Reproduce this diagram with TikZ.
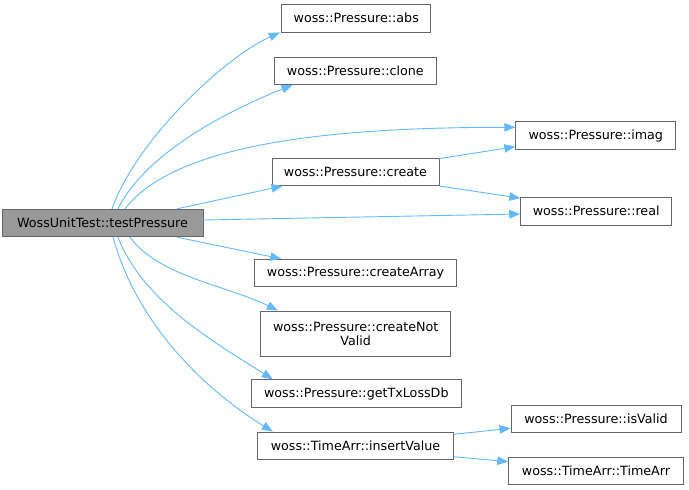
\documentclass[tikz,border=0pt]{standalone}
\usepackage{fontspec}
\setmainfont{DejaVu Sans}
\usetikzlibrary{arrows.meta}
\definecolor{edgeblue}{HTML}{63B8FF}
\definecolor{nodeborder}{HTML}{666666}
\definecolor{tpfill}{HTML}{999999}
\tikzset{
  box/.style={draw=nodeborder, line width=0.9pt, fill=white, minimum height=27.5pt,
    inner sep=0pt, font=\fontsize{12.7}{14}\selectfont},
  edge/.style={draw=edgeblue, line width=0.9pt, -{Triangle[length=11pt,width=8.5pt]}}
}
\begin{document}
\begin{tikzpicture}[x=1pt,y=-1pt]
\useasboundingbox (0,0) rectangle (689,490);
\node[box, fill=tpfill, minimum width=201pt] (tp) at (102.5,223) {WossUnitTest::testPressure};
\node[box, minimum width=149pt] (abs) at (356.3,18.2) {woss::Pressure::abs};
\node[box, minimum width=162.7pt] (clone) at (355.3,70.8) {woss::Pressure::clone};
\node[box, minimum width=167pt] (create) at (355.5,171.8) {woss::Pressure::create};
\node[box, minimum width=160pt] (imag) at (595.8,135.5) {woss::Pressure::imag};
\node[box, minimum width=151pt] (real) at (596.2,211.2) {woss::Pressure::real};
\node[box, minimum width=202.4pt] (carr) at (355.5,273) {woss::Pressure::createArray};
\node[box, minimum width=190pt, minimum height=45.5pt, align=center] (cnv) at (355.7,333.8) {woss::Pressure::createNot\\Valid};
\node[box, minimum width=209.3pt] (gtx) at (356.3,393.5) {woss::Pressure::getTxLossDb};
\node[box, minimum width=195.6pt] (ins) at (355.5,445.8) {woss::TimeArr::insertValue};
\node[box, minimum width=170pt] (isv) at (596,419) {woss::Pressure::isValid};
\node[box, minimum width=174.6pt] (ta) at (596,471) {woss::TimeArr::TimeArr};

\draw[edge] ([xshift=9.5pt]tp.north) .. controls +(25,-70) and +(-55,25) .. ([xshift=-1.5pt]abs.south west);
\draw[edge] ([xshift=15.5pt]tp.north) .. controls +(30,-60) and +(-55,22) .. ([xshift=19pt]clone.south west);
\draw[edge] ([xshift=22.5pt]tp.north) .. controls +(50,-65) and +(-186,0) .. ([yshift=8.2pt]imag.west);
\draw[edge] ([xshift=74.5pt]tp.north) -- ([xshift=11pt]create.south west);
\draw[edge] ([yshift=3pt]tp.east) -- ([yshift=-2.8pt]real.west);
\draw[edge] ([yshift=-1pt]create.north east) -- ([yshift=-11.2pt]imag.west);
\draw[edge] (create.south east) -- ([yshift=13pt]real.west);
\draw[edge] ([xshift=74.5pt]tp.south) -- ([xshift=27.4pt]carr.north west);
\draw[edge] ([xshift=27.5pt]tp.south) .. controls +(30,40) and +(-50,-25) .. ([xshift=17.6pt]cnv.north west);
\draw[edge] ([xshift=15.5pt]tp.south) .. controls +(25,65) and +(-55,-35) .. ([xshift=21.6pt]gtx.north west);
\draw[edge] ([xshift=10.5pt]tp.south) .. controls +(25,90) and +(-65,-40) .. ([xshift=15.6pt]ins.north west);
\draw[edge] ([yshift=-2.7pt]ins.north east) -- ([yshift=-9.3pt]isv.west);
\draw[edge] ([yshift=3.3pt]ins.south east) -- ([yshift=9.3pt]ta.west);
\end{tikzpicture}
\end{document}
